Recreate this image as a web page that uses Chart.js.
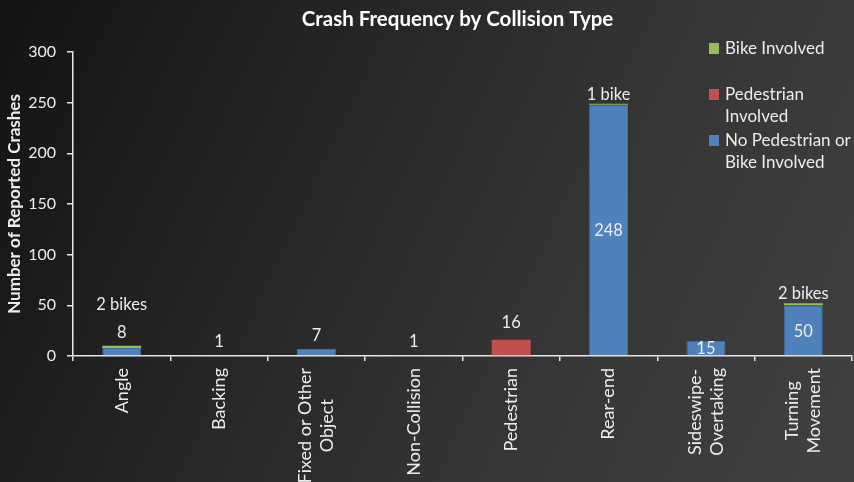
<!DOCTYPE html>
<html>
<head>
<meta charset="utf-8">
<title>Crash Frequency by Collision Type</title>
<script src="https://cdn.jsdelivr.net/npm/chart.js@4/dist/chart.umd.min.js"></script>
<style>
  html, body { margin: 0; padding: 0; width: 854px; height: 482px; overflow: hidden; }
  body { background: linear-gradient(115deg, #131313 0%, #262626 35%, #353535 65%, #414141 100%); }
  canvas { display: block; }
</style>
</head>
<body>
<canvas id="crashChart" width="854" height="482"></canvas>
<script>
// ---- data ----
const categories = [
  'Angle', 'Backing', ['Fixed or Other', 'Object'], 'Non-Collision',
  'Pedestrian', 'Rear-end', ['Sideswipe-', 'Overtaking'], ['Turning', 'Movement']
];
const noPedBike  = [8, 1, 7, 1, 0, 248, 15, 50];
const pedestrian = [0, 0, 0, 0, 16, 0, 0, 0];
const bike       = [2, 0, 0, 0, 0, 1, 0, 2];
const yTicks     = [0, 50, 100, 150, 200, 250, 300];

const seriesNames = ['No Pedestrian or Bike Involved', 'Pedestrian Involved', 'Bike Involved'];
const legendLines = [['Bike Involved'], ['Pedestrian', 'Involved'], ['No Pedestrian or', 'Bike Involved']];

// ---- styling ----
const BLUE = '#4f81bd', RED = '#c0504d', GREEN = '#9bbb59';
const TEXT = '#ececec';
const AXIS = '#e6e6e6';
const FONT = 'Lato, "Open Sans", sans-serif';
// where the value label of the main series sits: above the stack or inside the bar
const mainLabelPlace = ['end', 'end', 'end', 'end', 'end', 'center', 'center', 'center'];

// value labels drawn from the bar elements
const barLabels = {
  id: 'barLabels',
  afterDatasetsDraw(chart) {
    const ctx = chart.ctx;
    const metas = [0, 1, 2].map(i => chart.getDatasetMeta(i));
    const series = [noPedBike, pedestrian, bike];
    ctx.save();
    ctx.fillStyle = TEXT;
    ctx.textAlign = 'center';
    ctx.textBaseline = 'alphabetic';
    ctx.font = '16.5px ' + FONT;
    categories.forEach((c, i) => {
      let stackTop = Infinity;
      series.forEach((s, k) => { if (s[i] > 0) stackTop = Math.min(stackTop, metas[k].data[i].y); });
      let aboveBaseline = null;
      const b = metas[0].data[i];
      if (noPedBike[i] > 0) {
        if (mainLabelPlace[i] === 'center') {
          ctx.textBaseline = 'middle';
          ctx.fillText(String(noPedBike[i]), b.x, (b.y + b.base) / 2 + 1);
          ctx.textBaseline = 'alphabetic';
        } else {
          aboveBaseline = stackTop - 8;
          ctx.fillText(String(noPedBike[i]), b.x, aboveBaseline);
        }
      }
      if (pedestrian[i] > 0) {
        const r = metas[1].data[i];
        aboveBaseline = stackTop - 12;
        ctx.fillText(String(pedestrian[i]), r.x, aboveBaseline);
      }
      if (bike[i] > 0) {
        const g = metas[2].data[i];
        const text = bike[i] + (bike[i] > 1 ? ' bikes' : ' bike');
        const y = aboveBaseline !== null ? aboveBaseline - 28 : stackTop - 4;
        ctx.fillText(text, g.x, y);
      }
    });
    ctx.restore();
  }
};

// category labels, rotated, with the lines of a wrapped label centred on each other
const categoryLabels = {
  id: 'categoryLabels',
  afterDraw(chart) {
    const ctx = chart.ctx;
    const xs = chart.scales.x;
    const lineGap = 22;
    ctx.save();
    ctx.fillStyle = TEXT;
    ctx.font = '18px ' + FONT;
    ctx.textBaseline = 'middle';
    ctx.textAlign = 'center';
    categories.forEach((lab, i) => {
      const lines = Array.isArray(lab) ? lab : [lab];
      const widest = Math.max(...lines.map(l => ctx.measureText(l).width));
      const x = xs.getPixelForTick(i);
      const startY = xs.top + 12;
      ctx.save();
      ctx.translate(x, startY + widest / 2);
      ctx.rotate(-Math.PI / 2);
      lines.forEach((ln, j) => {
        ctx.fillText(ln, 0, (j - (lines.length - 1) / 2) * lineGap);
      });
      ctx.restore();
    });
    ctx.restore();
  }
};

// chart title centred over the plot area, plus the wrapped legend at the upper right
const decorations = {
  id: 'decorations',
  afterDraw(chart) {
    const ctx = chart.ctx;
    const area = chart.chartArea;
    ctx.save();
    ctx.fillStyle = '#ffffff';
    ctx.font = 'bold 20.5px ' + FONT;
    ctx.textAlign = 'center';
    ctx.textBaseline = 'alphabetic';
    ctx.fillText('Crash Frequency by Collision Type', (area.left + area.right) / 2 - 5, 26);

    const colors = [GREEN, RED, BLUE];
    ctx.font = '17px ' + FONT;
    ctx.textAlign = 'left';
    legendLines.forEach((lines, k) => {
      const base = 54 + k * 46;
      ctx.fillStyle = colors[k];
      ctx.fillRect(709, base - 11, 10, 11);
      ctx.fillStyle = TEXT;
      lines.forEach((ln, j) => ctx.fillText(ln, 725, base + j * 22));
    });
    ctx.restore();
  }
};

new Chart(document.getElementById('crashChart'), {
  type: 'bar',
  data: {
    labels: categories,
    datasets: [
      { label: seriesNames[0], data: noPedBike, backgroundColor: BLUE, borderColor: '#44709f', borderWidth: 1 },
      { label: seriesNames[1], data: pedestrian, backgroundColor: RED, borderWidth: 0 },
      { label: seriesNames[2], data: bike, backgroundColor: GREEN, borderWidth: 0 }
    ]
  },
  options: {
    responsive: false,
    animation: false,
    layout: { padding: { top: 52, right: 2, left: 0, bottom: 0 } },
    datasets: { bar: { categoryPercentage: 1, barPercentage: 0.4 } },
    plugins: {
      legend: { display: false },
      title: { display: false },
      tooltip: { enabled: false }
    },
    scales: {
      x: {
        stacked: true,
        grid: { display: true, drawOnChartArea: false, offset: true, color: AXIS, tickLength: 5, lineWidth: 1.5 },
        border: { color: AXIS, width: 1.5 },
        ticks: { display: false, autoSkip: false },
        afterFit(scale) { scale.height = 126; }
      },
      y: {
        stacked: true,
        min: 0,
        max: 300,
        afterBuildTicks(scale) { scale.ticks = yTicks.map(v => ({ value: v })); },
        grid: { display: true, drawOnChartArea: false, color: AXIS, tickLength: 6, lineWidth: 1.5 },
        border: { color: AXIS, width: 1.5 },
        ticks: { color: TEXT, font: { family: FONT, size: 16 }, padding: 11 },
        title: { display: true, text: 'Number of Reported Crashes', color: TEXT, font: { family: FONT, size: 17, weight: 'bold' }, padding: { top: 4, bottom: 0 } },
        afterFit(scale) { scale.width = 73; }
      }
    }
  },
  plugins: [barLabels, categoryLabels, decorations]
});
</script>
</body>
</html>
